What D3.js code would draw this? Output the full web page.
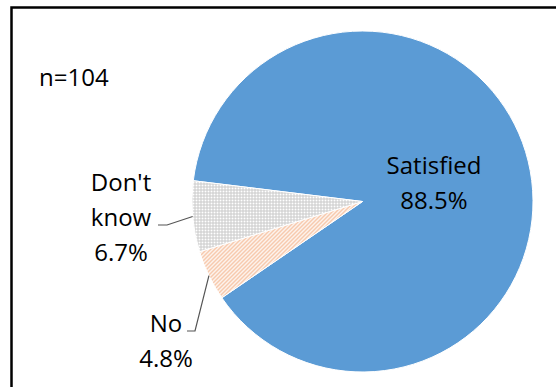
<!DOCTYPE html>
<html>
<head>
<meta charset="utf-8">
<script src="https://cdn.jsdelivr.net/npm/d3@7"></script>
<style>
  body { margin: 0; background: #fff; }
  text { font-family: "Open Sans", sans-serif; font-size: 24px; fill: #000; }
</style>
</head>
<body>
<svg id="chart"></svg>
<script>
// Data
const categories = ["Satisfied", "No", "Don't know"];
const values = [88.5, 4.8, 6.7];
const labelLines = [["Satisfied"], ["No"], ["Don't", "know"]];
const sampleNote = "n=104";

const width = 556, height = 387;
const cx = 362.5, cy = 201.5, radius = 170.5;

const svg = d3.select("#chart")
  .attr("width", width)
  .attr("height", height);

// Patterns for the small slices
const defs = svg.append("defs");
const stripes = defs.append("pattern")
  .attr("id", "stripes")
  .attr("patternUnits", "userSpaceOnUse")
  .attr("width", 4).attr("height", 4);
stripes.append("rect").attr("width", 4).attr("height", 4).attr("fill", "#fff");
stripes.append("path")
  .attr("d", "M-1,1L1,-1M0,4L4,0M3,5L5,3")
  .attr("stroke", "#F2A97C")
  .attr("stroke-width", 1.1);

const grid = defs.append("pattern")
  .attr("id", "grid")
  .attr("patternUnits", "userSpaceOnUse")
  .attr("width", 3).attr("height", 3);
grid.append("rect").attr("width", 3).attr("height", 3).attr("fill", "#fff");
grid.append("path")
  .attr("d", "M0,0.5H3M0.5,0V3")
  .attr("stroke", "#c9c9c9")
  .attr("stroke-width", 1);

const fills = ["#5B9BD5", "url(#stripes)", "url(#grid)"];

// Frame (runs off the right and bottom edge)
svg.append("rect")
  .attr("x", 11.5).attr("y", 7.5)
  .attr("width", 600).attr("height", 500)
  .attr("fill", "none")
  .attr("stroke", "#000")
  .attr("stroke-width", 2.5);

const rot = 277 * Math.PI / 180;
const pie = d3.pie().sort(null).startAngle(rot).endAngle(rot + 2 * Math.PI);
const arcs = pie(values);
const arc = d3.arc().innerRadius(0).outerRadius(radius);

const g = svg.append("g").attr("transform", `translate(${cx},${cy})`);

g.selectAll("path.slice")
  .data(arcs)
  .join("path")
  .attr("class", "slice")
  .attr("d", arc)
  .attr("fill", (d, i) => fills[i])
  .attr("stroke", "#fff")
  .attr("stroke-width", 1);

// label placement (absolute, page coordinates)
const labelPos = [
  { x: 434, y: 174, inside: true },
  { x: 166, y: 332, leader: [195, 331] },
  { x: 121, y: 191, leader: [158, 225], elbow: 167 }
];

const rimArc = d3.arc().innerRadius(radius).outerRadius(radius);

arcs.forEach((d, i) => {
  const p = labelPos[i];
  const lines = labelLines[i].concat([d3.format(".1f")(values[i]) + "%"]);
  svg.append("text")
    .attr("text-anchor", "middle")
    .selectAll("tspan")
    .data(lines)
    .join("tspan")
    .attr("x", p.x)
    .attr("y", (t, k) => p.y + k * 35)
    .text(t => t);

  if (p.leader) {
    const [ex, ey] = rimArc.centroid(d);
    const pts = [];
    if (p.elbow !== undefined) {
      pts.push([p.leader[0], p.leader[1]], [p.elbow, p.leader[1]]);
    } else {
      pts.push([p.leader[0] - 8, p.leader[1]], [p.leader[0], p.leader[1]]);
    }
    pts.push([cx + ex, cy + ey]);
    svg.append("path")
      .attr("d", d3.line()(pts))
      .attr("fill", "none")
      .attr("stroke", "#555")
      .attr("stroke-width", 1.2);
  }
});

svg.append("text")
  .attr("x", 39)
  .attr("y", 86)
  .text(sampleNote);
</script>
</body>
</html>
